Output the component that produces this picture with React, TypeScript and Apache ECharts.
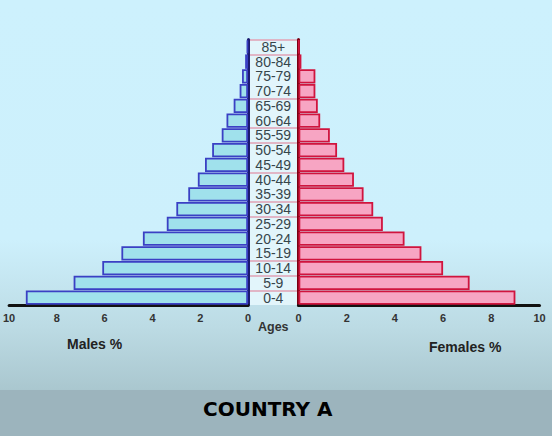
import React, { useEffect, useRef } from "react";
import * as echarts from "echarts";

const ages = ["0-4","5-9","10-14","15-19","20-24","25-29","30-34","35-39","40-44","45-49","50-54","55-59","60-64","65-69","70-74","75-79","80-84","85+"];
const males = [9.3,7.3,6.1,5.3,4.4,3.4,3.0,2.5,2.1,1.8,1.5,1.1,0.9,0.6,0.35,0.25,0.12,0.05];
const females = [9.0,7.1,6.0,5.1,4.4,3.5,3.1,2.7,2.3,1.9,1.6,1.3,0.9,0.8,0.7,0.7,0.12,0.03];
const pinkLineTicks = [1,2,3,6,7,9,11,12,14,17,18];
const title = "COUNTRY A";

const FONT = "'Liberation Sans', Arial, sans-serif";

export default function App() {
  const ref = useRef<HTMLDivElement>(null);
  useEffect(() => {
    if (!ref.current) return;
    const chart = echarts.init(ref.current, null, { renderer: "svg" });
    const top = 39.5, height = 265.5;
    const tickLabel = { color: "#333", fontSize: 11, fontWeight: "bold" as const, fontFamily: FONT, margin: 7 };
    chart.setOption({
      animation: false,
      backgroundColor: "transparent",
      grid: [
        { left: 6, width: 242, top, height },
        { left: 249.5, width: 47.5, top, height, show: true, backgroundColor: "#e2f5fb", borderWidth: 0 },
        { left: 298.5, width: 241, top, height },
      ],
      xAxis: [
        { gridIndex: 0, type: "value", inverse: true, min: 0, max: 10, interval: 2,
          axisLine: { show: true, lineStyle: { color: "#111", width: 3 } },
          axisTick: { show: false }, splitLine: { show: false }, axisLabel: tickLabel },
        { gridIndex: 1, type: "value", min: 0, max: 1, show: true,
          axisLine: { show: false }, axisTick: { show: false }, splitLine: { show: false },
          axisLabel: { show: false },
          name: "Ages", nameLocation: "middle", nameGap: 15,
          nameTextStyle: { color: "#333", fontSize: 12.5, fontWeight: "bold", fontFamily: FONT, verticalAlign: "top" } },
        { gridIndex: 2, type: "value", min: 0, max: 10, interval: 2,
          axisLine: { show: true, lineStyle: { color: "#111", width: 3 } },
          axisTick: { show: false }, splitLine: { show: false }, axisLabel: tickLabel },
      ],
      yAxis: [
        { gridIndex: 0, type: "category", data: ages, position: "right",
          axisLine: { show: true, lineStyle: { color: "#1b1b70", width: 3 } },
          axisTick: { show: false }, axisLabel: { show: false }, splitLine: { show: false } },
        { gridIndex: 1, type: "category", data: ages, position: "left",
          axisLine: { show: false }, axisTick: { show: false },
          axisLabel: { show: true, inside: true, margin: 23.75, align: "center", interval: 0,
            color: "#36454b", fontSize: 14, fontFamily: FONT },
          splitLine: { show: true, interval: (i: number) => pinkLineTicks.includes(i),
            lineStyle: { color: "#e0a0b4", width: 1.5 } } },
        { gridIndex: 2, type: "category", data: ages, position: "left",
          axisLine: { show: true, lineStyle: { color: "#7a0012", width: 3 } },
          axisTick: { show: false }, axisLabel: { show: false }, splitLine: { show: false } },
      ],
      series: [
        { type: "bar", name: "Males %", xAxisIndex: 0, yAxisIndex: 0, data: males,
          barCategoryGap: "2%",
          itemStyle: { color: "#a0e1ec", borderColor: "#3a40c4", borderWidth: 1.8 } },
        { type: "bar", name: "Females %", xAxisIndex: 2, yAxisIndex: 2, data: females,
          barCategoryGap: "2%",
          itemStyle: { color: "#f7a5c3", borderColor: "#d0143e", borderWidth: 1.8 } },
      ],
      graphic: [
        { type: "text", left: 67, top: 337, style: { text: "Males %", fill: "#222", font: `bold 14px ${FONT}` } },
        { type: "text", left: 429, top: 340, style: { text: "Females %", fill: "#222", font: `bold 14px ${FONT}` } },
        { type: "rect", left: 0, top: 390, shape: { width: 552, height: 46 }, style: { fill: "#9cb4bd" } },
        { type: "text", left: 203, top: 399, style: { text: title, fill: "#000", font: `bold 20px 'DejaVu Sans', Verdana, sans-serif` } },
      ],
    });
    return () => chart.dispose();
  }, []);
  return (
    <div
      ref={ref}
      style={{
        position: "fixed", left: 0, top: 0, width: 552, height: 436,
        background: "linear-gradient(to bottom, #cdf1fd 0%, #cdf0fc 55%, #bcdbe4 75%, #aac7cf 89.4%)",
      }}
    />
  );
}
